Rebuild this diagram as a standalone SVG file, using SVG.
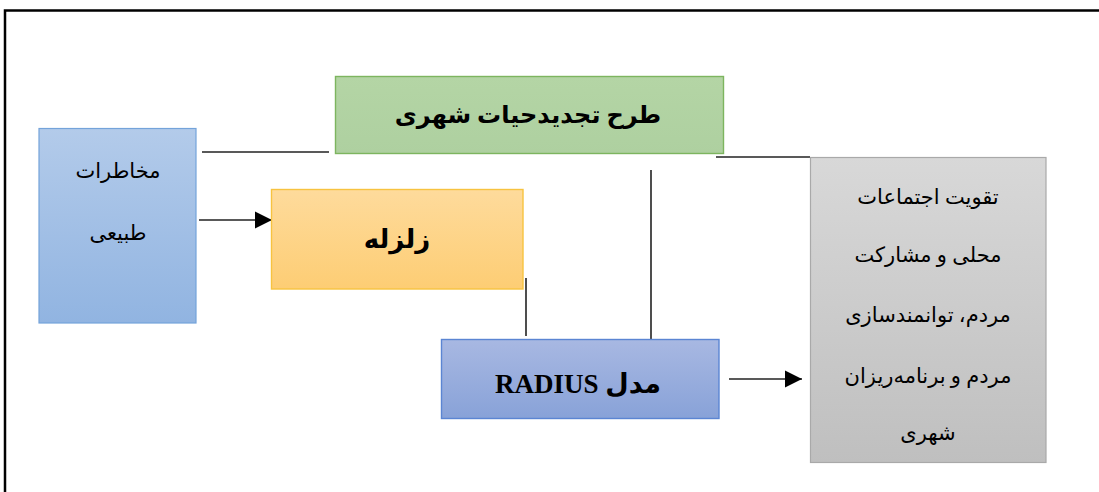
<svg xmlns="http://www.w3.org/2000/svg" width="1099" height="492" viewBox="0 0 1099 492">
<defs>
<linearGradient id="gBlue" x1="0" y1="0" x2="0" y2="1"><stop offset="0" stop-color="#b3cbea"/><stop offset="1" stop-color="#91b4e1"/></linearGradient>
<linearGradient id="gOrange" x1="0" y1="0" x2="0" y2="1"><stop offset="0" stop-color="#fedb9c"/><stop offset="1" stop-color="#fdcd74"/></linearGradient>
<linearGradient id="gIndigo" x1="0" y1="0" x2="0" y2="1"><stop offset="0" stop-color="#a8b8e2"/><stop offset="1" stop-color="#88a2d8"/></linearGradient>
<linearGradient id="gGray" x1="0" y1="0" x2="0" y2="1"><stop offset="0" stop-color="#d8d8d8"/><stop offset="1" stop-color="#bfbfbf"/></linearGradient>
<linearGradient id="gGreen" x1="0" y1="0" x2="0" y2="1"><stop offset="0" stop-color="#b4d5a5"/><stop offset="1" stop-color="#aed0a0"/></linearGradient>
<marker id="arr" viewBox="0 0 10 10" refX="10" refY="5" markerWidth="17" markerHeight="20" markerUnits="userSpaceOnUse" orient="auto"><path d="M0,0 L10,5 L0,10 Z" fill="#000"/></marker>
</defs>
<style>
.t{font-family:"Liberation Serif","DejaVu Sans",serif;fill:#000;text-anchor:middle}
.b{font-weight:bold}
.n{font-weight:normal;font-size:21px}
.c{stroke:#222;stroke-width:1.6;fill:none}
</style>
<rect x="0" y="0" width="1099" height="492" fill="#fff"/>
<path d="M5,492 V10.5 H1099" fill="none" stroke="#000" stroke-width="2.5"/>
<g id="connectors">
<line class="c" x1="202" y1="152" x2="329" y2="152"/>
<line class="c" x1="199" y1="220" x2="272" y2="220" marker-end="url(#arr)"/>
<line class="c" x1="716" y1="157" x2="810" y2="157"/>
<line class="c" x1="526" y1="278" x2="526" y2="336"/>
<line class="c" x1="651" y1="170" x2="651" y2="339"/>
<line class="c" x1="729" y1="379" x2="802" y2="379" marker-end="url(#arr)"/>
</g>
<g id="hazards">
<rect x="39" y="128.5" width="157" height="194.5" fill="url(#gBlue)" stroke="#74a3da" stroke-width="1.2"/>
<text class="t n" direction="rtl" x="118" y="178">مخاطرات</text>
<text class="t n" direction="rtl" x="118" y="240">طبیعی</text>
</g>
<g id="plan">
<rect x="335.5" y="76.5" width="388" height="77" fill="url(#gGreen)" stroke="#7db55f" stroke-width="1.4"/>
<text class="t b" direction="rtl" x="528" y="123" font-size="24">طرح تجدیدحیات شهری</text>
</g>
<g id="earthquake">
<rect x="271.5" y="189.5" width="251.5" height="99.5" fill="url(#gOrange)" stroke="#f7c340" stroke-width="1.4"/>
<text class="t b" direction="rtl" x="397" y="248" font-size="26">زلزله</text>
</g>
<g id="radius">
<rect x="441.5" y="339.5" width="277.5" height="79" fill="url(#gIndigo)" stroke="#5b85d3" stroke-width="1.4"/>
<text class="t b" direction="rtl" x="578" y="393" font-size="27">مدل RADIUS</text>
</g>
<g id="outcome">
<rect x="810.5" y="157.5" width="235.5" height="305" fill="url(#gGray)" stroke="#a9a9a9" stroke-width="1.2"/>
<text class="t n" direction="rtl" x="928" y="204">تقویت اجتماعات</text>
<text class="t n" direction="rtl" x="928" y="262">محلی و مشارکت</text>
<text class="t n" direction="rtl" x="928" y="322">مردم، توانمندسازی</text>
<text class="t n" direction="rtl" x="928" y="383">مردم و برنامه‌ریزان</text>
<text class="t n" direction="rtl" x="928" y="440">شهری</text>
</g>
</svg>
